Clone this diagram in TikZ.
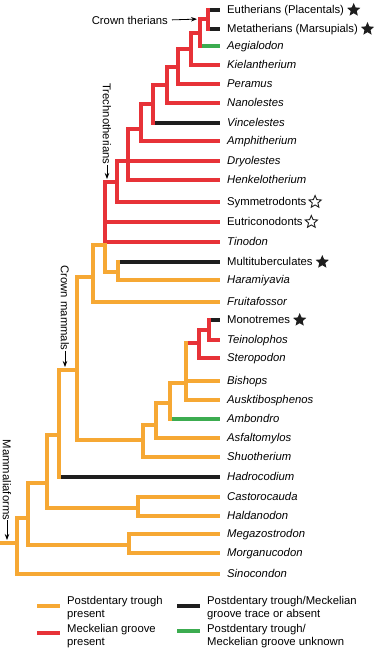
\documentclass[tikz,border=0pt]{standalone}
\usepackage{fontspec}
\setmainfont{Liberation Sans}
\usetikzlibrary{arrows.meta,positioning,shapes.geometric}

\definecolor{trough}{RGB}{246,168,52}
\definecolor{groove}{RGB}{231,50,56}
\definecolor{absent}{RGB}{30,30,30}
\definecolor{unknown}{RGB}{60,172,80}
\newcommand{\labelsize}{\fontsize{11.3pt}{13pt}\selectfont}

\begin{document}
\begin{tikzpicture}[x=1pt,y=-1pt,every node/.style={font=\labelsize},
  br/.style={line width=3.8pt,line cap=rect},
  tip/.style={shorten >=9pt},
  taxon/.style={anchor=west,inner sep=0pt,text height=7pt,text depth=0pt,font=\labelsize\itshape},
  group/.style={taxon,font=\labelsize},
  fullstar/.style={star,star points=5,star point ratio=2.2,minimum size=14pt,inner sep=0pt,fill=absent},
  openstar/.style={star,star points=5,star point ratio=2.2,minimum size=13pt,inner sep=0pt,draw=absent,line width=.9pt},
  note/.style={inner sep=0pt},
  pointer/.style={line width=.8pt,-{Stealth[length=6pt,width=4.5pt]},shorten >=3pt},
  key/.style={line width=3.8pt},
  keytext/.style={anchor=west,align=left,inner sep=0pt}]
\useasboundingbox (0,0) rectangle (380,650);

% taxa
\node[group] (eu) at (227,10) {Eutherians (Placentals)};
\node[group] (me) at (227,29) {Metatherians (Marsupials)};
\node[taxon] (aeg) at (227,46) {Aegialodon};
\node[taxon] (kie) at (227,65) {Kielantherium};
\node[taxon] (per) at (227,84) {Peramus};
\node[taxon] (nan) at (227,103) {Nanolestes};
\node[taxon] (vin) at (227,123) {Vincelestes};
\node[taxon] (amp) at (227,141) {Amphitherium};
\node[taxon] (dry) at (227,161) {Dryolestes};
\node[taxon] (hen) at (227,180) {Henkelotherium};
\node[group] (sym) at (227,202) {Symmetrodonts};
\node[group] (eut) at (227,222) {Eutriconodonts};
\node[taxon] (tin) at (227,242) {Tinodon};
\node[group] (mul) at (227,262) {Multituberculates};
\node[taxon] (har) at (227,280) {Haramiyavia};
\node[taxon] (fru) at (227,302) {Fruitafossor};
\node[group] (mon) at (227,320) {Monotremes};
\node[taxon] (tei) at (227,340) {Teinolophos};
\node[taxon] (ste) at (227,358) {Steropodon};
\node[taxon] (bis) at (227,381) {Bishops};
\node[taxon] (aus) at (227,400) {Ausktibosphenos};
\node[taxon] (amb) at (227,419) {Ambondro};
\node[taxon] (asf) at (227,438) {Asfaltomylos};
\node[taxon] (shu) at (227,457) {Shuotherium};
\node[taxon] (had) at (227,477) {Hadrocodium};
\node[taxon] (cas) at (227,497) {Castorocauda};
\node[taxon] (hal) at (227,516) {Haldanodon};
\node[taxon] (meg) at (227,534) {Megazostrodon};
\node[taxon] (mor) at (227,553) {Morganucodon};
\node[taxon] (sin) at (227,574) {Sinocondon};

\node[fullstar,right=5pt of eu] (eustar) {};
\node[fullstar,right=5pt of me] (mestar) {};
\node[openstar,right=4pt of sym] (symstar) {};
\node[openstar,right=4pt of eut] (eutstar) {};
\node[fullstar,right=5pt of mul] (mulstar) {};
\node[fullstar,right=5pt of mon] (monstar) {};

% internal nodes
\coordinate (n1) at (208,19);
\coordinate (n2) at (200,33);
\coordinate (n3) at (191,49);
\coordinate (n4) at (178,67);
\coordinate (n5) at (167,85);
\coordinate (n6) at (153,104);
\coordinate (n7) at (141,129);
\coordinate (n8) at (128,161);
\coordinate (n9) at (117,182);
\coordinate (n10) at (105,245);
\coordinate (nmh) at (118,272);
\coordinate (n12) at (93,277);
\coordinate (n13) at (77,370);
\coordinate (a1) at (209,330);
\coordinate (a2) at (199,343);
\coordinate (a3) at (186,383);
\coordinate (a4) at (170,403);
\coordinate (a5) at (156,425);
\coordinate (a6) at (143,440);
\coordinate (n14) at (59,435);
\coordinate (doc) at (138,508);
\coordinate (n15) at (47,483);
\coordinate (mrg) at (129,545);
\coordinate (n16) at (28,518);
\coordinate (root) at (17,543);
\coordinate (base) at (2,543);

% tips
\draw[br,absent,tip] (n1 |- eu.west) -- (eu.west);
\draw[br,absent,tip] (n1 |- me.west) -- (me.west);
\draw[br,unknown,tip] (n2 |- aeg.west) -- (aeg.west);
\draw[br,groove,tip] (n3 |- kie.west) -- (kie.west);
\draw[br,groove,tip] (n4 |- per.west) -- (per.west);
\draw[br,groove,tip] (n5 |- nan.west) -- (nan.west);
\draw[br,absent,tip] (n6 |- vin.west) -- (vin.west);
\draw[br,groove,tip] (n7 |- amp.west) -- (amp.west);
\draw[br,groove,tip] (n9 |- dry.west) -- (dry.west);
\draw[br,groove,tip] (n8 |- hen.west) -- (hen.west);
\draw[br,groove,tip] (n9 |- sym.west) -- (sym.west);
\draw[br,groove,tip] (n10 |- eut.west) -- (eut.west);
\draw[br,groove,tip] (n10 |- tin.west) -- (tin.west);
\draw[br,absent,tip] (nmh |- mul.west) -- (mul.west);
\draw[br,trough,tip] (nmh |- har.west) -- (har.west);
\draw[br,trough,tip] (n12 |- fru.west) -- (fru.west);
\draw[br,absent,tip] (a1 |- mon.west) -- (mon.west);
\draw[br,groove,tip] (a1 |- tei.west) -- (tei.west);
\draw[br,groove,tip] (a2 |- ste.west) -- (ste.west);
\draw[br,trough,tip] (a3 |- bis.west) -- (bis.west);
\draw[br,trough,tip] (a3 |- aus.west) -- (aus.west);
\draw[br,unknown,tip] (a4 |- amb.west) -- (amb.west);
\draw[br,trough,tip] (a5 |- asf.west) -- (asf.west);
\draw[br,trough,tip] (a6 |- shu.west) -- (shu.west);
\draw[br,absent,tip] (n14 |- had.west) -- (had.west);
\draw[br,trough,tip] (doc |- cas.west) -- (cas.west);
\draw[br,trough,tip] (doc |- hal.west) -- (hal.west);
\draw[br,trough,tip] (mrg |- meg.west) -- (meg.west);
\draw[br,trough,tip] (mrg |- mor.west) -- (mor.west);
\draw[br,trough,tip] (root |- sin.west) -- (sin.west);

% stems
\draw[br,groove] (n2 |- n1) -- (n1);
\draw[br,groove] (n3 |- n2) -- (n2);
\draw[br,groove] (n4 |- n3) -- (n3);
\draw[br,groove] (n5 |- n4) -- (n4);
\draw[br,groove] (n6 |- n5) -- (n5);
\draw[br,groove] (n7 |- n6) -- (n6);
\draw[br,groove] (n8 |- n7) -- (n7);
\draw[br,groove] (n10 |- n9) -- (n9);
\draw[br,trough] (n12 |- n10) -- (n10);
\draw[br,trough] (n10 |- nmh) -- (nmh);
\draw[br,trough] (n13 |- n12) -- (n12);
\draw[br,groove] (a2 |- a1) -- (a1);
\draw[br,groove] (a3 |- a2) -- (a2);
\draw[br,trough] (a4 |- a3) -- (a3);
\draw[br,trough] (a5 |- a4) -- (a4);
\draw[br,trough] (a6 |- a5) -- (a5);
\draw[br,trough] (n13 |- a6) -- (a6);
\draw[br,trough] (n14 |- n13) -- (n13);
\draw[br,trough] (n15 |- n14) -- (n14);
\draw[br,trough] (n15 |- doc) -- (doc);
\draw[br,trough] (n16 |- n15) -- (n15);
\draw[br,trough] (n16 |- mrg) -- (mrg);
\draw[br,trough] (root |- n16) -- (n16);
\draw[br,trough] (base) -- (root);

% verticals
\draw[br,groove] (n1 |- eu.west) -- (n1 |- me.west);
\draw[br,groove] (n2 |- n1) -- (n2 |- aeg.west);
\draw[br,groove] (n3 |- n2) -- (n3 |- kie.west);
\draw[br,groove] (n4 |- n3) -- (n4 |- per.west);
\draw[br,groove] (n5 |- n4) -- (n5 |- nan.west);
\draw[br,groove] (n6 |- n5) -- (n6 |- vin.west);
\draw[br,groove] (n7 |- n6) -- (n7 |- amp.west);
\draw[br,groove] (n8 |- n7) -- (n8 |- hen.west);
\draw[br,groove] (n9 |- dry.west) -- (n9 |- sym.west);
\draw[br,groove] (n10 |- n9) -- (n10 |- tin.west);
\draw[br,trough] (n10) -- (n10 |- nmh);
\draw[br,trough] (nmh |- mul.west) -- (nmh |- har.west);
\draw[br,trough] (n12 |- n10) -- (n12 |- fru.west);
\draw[br,trough] (n13 |- n12) -- (n13 |- a6);
\draw[br,groove] (a1 |- mon.west) -- (a1 |- tei.west);
\draw[br,groove] (a2 |- a1) -- (a2 |- ste.west);
\draw[br,trough] (a3 |- a2) -- (a3 |- aus.west);
\draw[br,trough] (a4 |- a3) -- (a4 |- amb.west);
\draw[br,trough] (a5 |- a4) -- (a5 |- asf.west);
\draw[br,trough] (a6 |- a5) -- (a6 |- shu.west);
\draw[br,trough] (n14 |- n13) -- (n14 |- had.west);
\draw[br,trough] (doc |- cas.west) -- (doc |- hal.west);
\draw[br,trough] (n15 |- n14) -- (n15 |- doc);
\draw[br,trough] (mrg |- meg.west) -- (mrg |- mor.west);
\draw[br,trough] (n16 |- n15) -- (n16 |- mrg);
\draw[br,trough] (root |- n16) -- (root |- sin.west);

% clade labels
\node[note,anchor=east] (ct) at (168,20) {Crown therians};
\draw[pointer,shorten <=4pt] (ct.east) -- (n2 |- n1);
\node[note,rotate=-90] (trech) at (107,124) {Trechnotherians};
\draw[pointer] (trech.east) -- (n9 -| trech);
\node[note,rotate=-90] (cm) at (65,308) {Crown mammals};
\draw[pointer] (cm.east) -- (n13 -| cm);
\node[note,rotate=-90] (mf) at (7,480) {Mammaliaforms};
\draw[pointer] (mf.east) -- (root -| mf);

% legend
\node[keytext] (k1) at (67,607.6) {Postdentary trough\\present};
\node[keytext] (k2) at (67,635.6) {Meckelian groove\\present};
\node[keytext] (k3) at (207,607.6) {Postdentary trough/Meckelian\\groove trace or absent};
\node[keytext] (k4) at (207,635.6) {Postdentary trough/\\Meckelian groove unknown};
\draw[key,trough] ([xshift=-30pt,yshift=2pt]k1.west) -- ([xshift=-7pt,yshift=2pt]k1.west);
\draw[key,groove] ([xshift=-30pt,yshift=3pt]k2.west) -- ([xshift=-7pt,yshift=3pt]k2.west);
\draw[key,absent] ([xshift=-30pt,yshift=2pt]k3.west) -- ([xshift=-7pt,yshift=2pt]k3.west);
\draw[key,unknown] ([xshift=-30pt,yshift=5pt]k4.west) -- ([xshift=-7pt,yshift=5pt]k4.west);
\end{tikzpicture}
\end{document}
